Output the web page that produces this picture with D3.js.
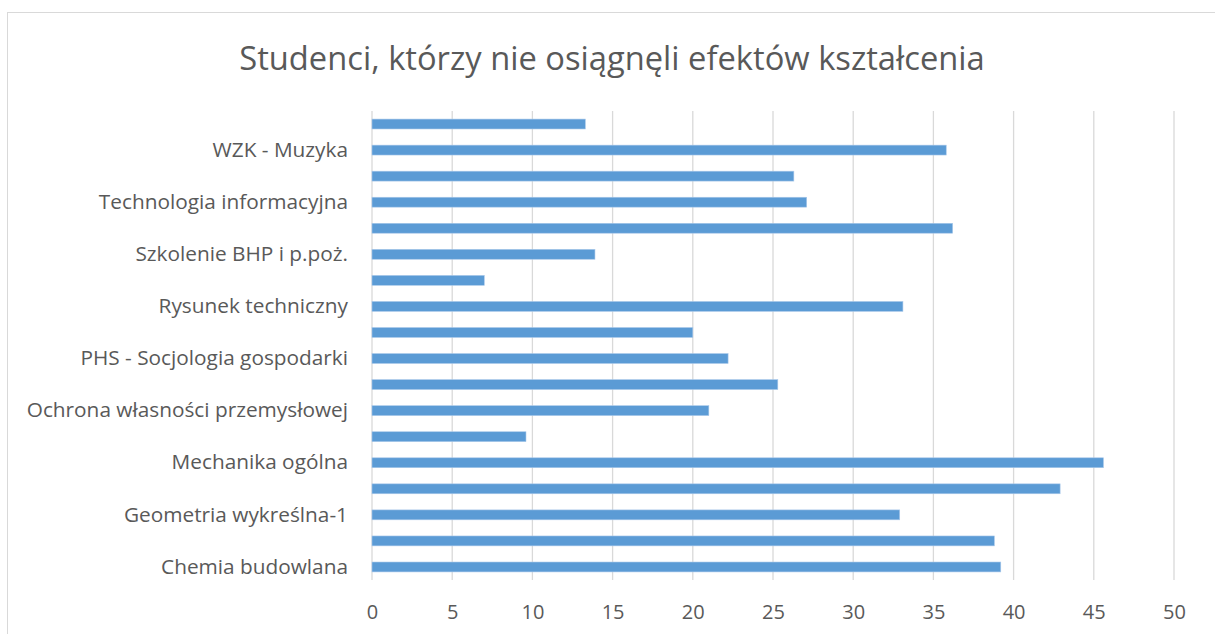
<!DOCTYPE html>
<html>
<head>
<meta charset="utf-8">
<script src="https://cdn.jsdelivr.net/npm/d3@7"></script>
<style>
	body { margin: 0; background: #fff; }
	text { font-family: "Open Sans", sans-serif; fill: #595959; }
</style>
</head>
<body>
<div class="viz"></div>
<script>
// categories from bottom to top; every second one has no visible label
let categories = [
	"Chemia budowlana", "", "Geometria wykreślna-1", "", "Mechanika ogólna", "",
	"Ochrona własności przemysłowej", "", "PHS - Socjologia gospodarki", "",
	"Rysunek techniczny", "", "Szkolenie BHP i p.poż.", "", "Technologia informacyjna", "",
	"WZK - Muzyka", ""
];
let values = [39.2, 38.8, 32.9, 42.9, 45.6, 9.6, 21.0, 25.3, 22.2, 20.0,
	33.1, 7.0, 13.9, 36.2, 27.1, 26.3, 35.8, 13.3];
let xTicks = [0, 5, 10, 15, 20, 25, 30, 35, 40, 45, 50];
let title = "Studenci, którzy nie osiągnęli efektów kształcenia";

let width = 1215, height = 634;
let margin = {top: 111, bottom: 54, left: 372, right: 39};

let svg = d3.select('.viz').append('svg')
	.attr('width', width)
	.attr('height', height);

// chart frame
svg.append('rect')
	.attr('x', 7.5)
	.attr('y', 12.5)
	.attr('width', width)
	.attr('height', height)
	.attr('fill', '#fff')
	.attr('stroke', '#d9d9d9');

svg.append('text')
	.attr('x', 612)
	.attr('y', 70)
	.attr('text-anchor', 'middle')
	.style('font-size', '32.7px')
	.text(title);

let x = d3.scaleLinear()
	.domain([0, 50])
	.range([margin.left, width - margin.right - 2]);

let idx = d3.range(categories.length);
let y = d3.scaleBand()
	.domain(idx.slice().reverse())
	.range([margin.top, height - margin.bottom])
	.paddingInner(0.62)
	.paddingOuter(0.31);

let g = svg.append('g');

g.selectAll('.grid')
	.data(xTicks)
	.enter().append('line')
	.attr('class', 'grid')
	.attr('x1', d => x(d))
	.attr('x2', d => x(d))
	.attr('y1', margin.top)
	.attr('y2', height - margin.bottom)
	.attr('stroke', '#d9d9d9')
	.attr('stroke-width', 1.3);

g.selectAll('.bar')
	.data(idx)
	.enter().append('rect')
	.attr('class', 'bar')
	.attr('x', x(0))
	.attr('y', d => y(d))
	.attr('width', d => x(values[d]) - x(0))
	.attr('height', y.bandwidth())
	.attr('fill', '#5b9bd5')
	.attr('stroke', '#a9c8ea')
	.attr('stroke-width', 0.6);

let xAxis = d3.axisBottom(x)
	.tickValues(xTicks)
	.tickSize(0)
	.tickPadding(25);

svg.append('g')
	.attr('transform', 'translate(0,' + (height - margin.bottom) + ')')
	.call(xAxis)
	.call(a => a.select('.domain').remove())
	.selectAll('text')
	.style('font-size', '20px')
	.style('font-family', '"Open Sans", sans-serif')
	.attr('fill', '#595959');

let yAxis = d3.axisLeft(y)
	.tickFormat(d => categories[d])
	.tickSize(0)
	.tickPadding(24);

svg.append('g')
	.attr('transform', 'translate(' + margin.left + ',0)')
	.call(yAxis)
	.call(a => a.select('.domain').remove())
	.selectAll('text')
	.style('font-size', '20.8px')
	.style('font-family', '"Open Sans", sans-serif')
	.attr('fill', '#595959');
</script>
</body>
</html>
